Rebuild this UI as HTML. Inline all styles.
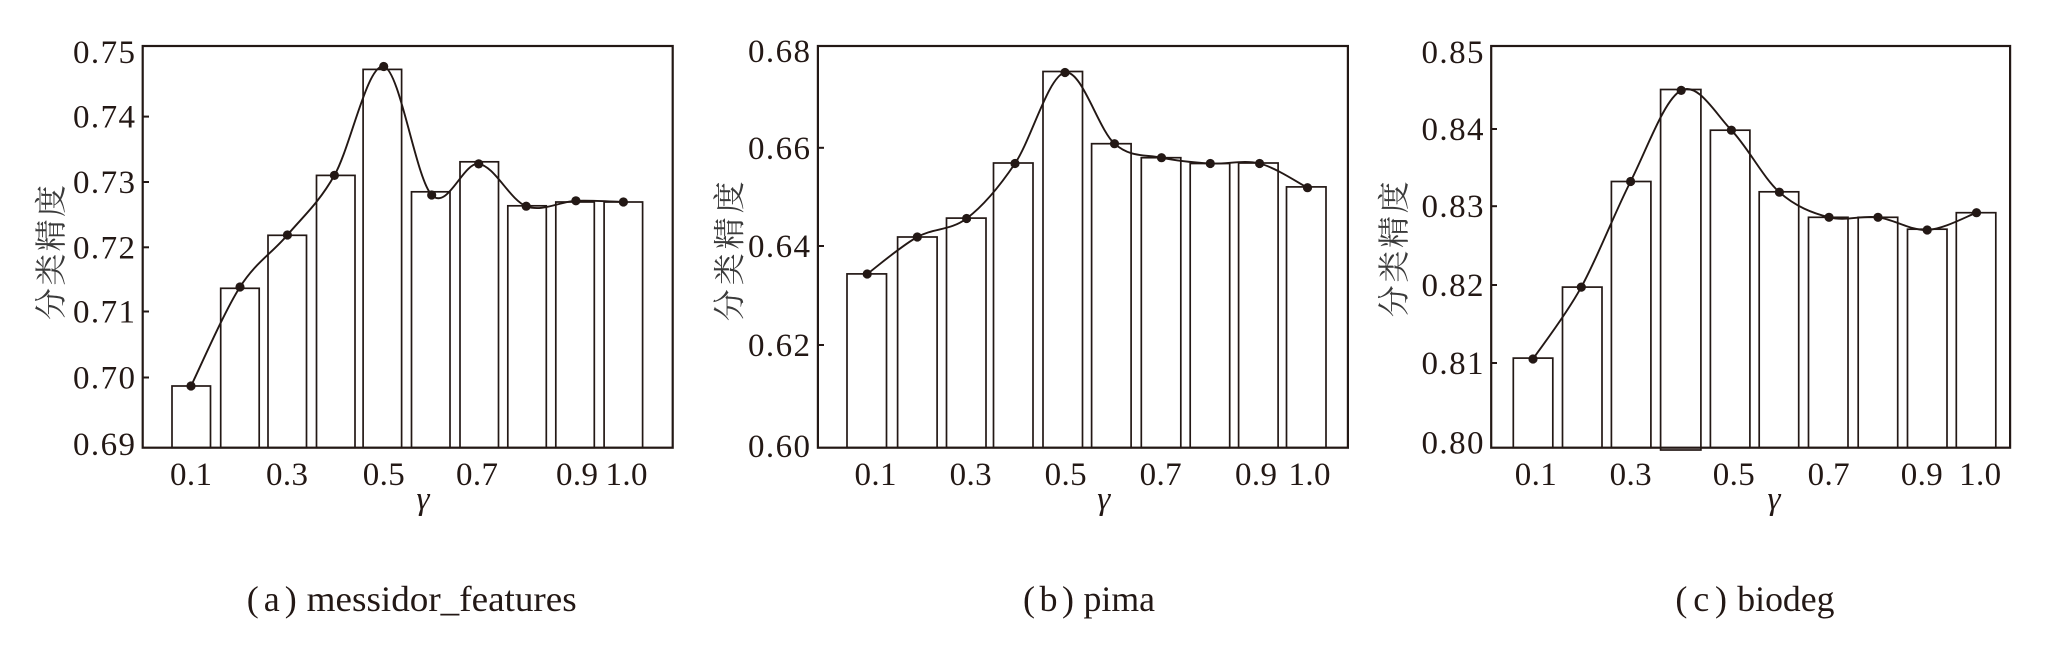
<!DOCTYPE html>
<html>
<head>
<meta charset="utf-8">
<style>
  html,body{margin:0;padding:0;background:#fff;}
  svg{display:block;}
  .num{font-family:"Liberation Serif",serif;font-size:33px;fill:#231815;}
  .cap{font-family:"Liberation Serif",serif;font-size:36px;fill:#231815;}
  .gam{font-family:"Liberation Serif",serif;font-size:33px;font-style:italic;fill:#231815;}
  .cjk{font-family:"Liberation Serif","Noto Serif CJK SC","Noto Sans CJK SC",serif;font-size:32px;fill:#3a3a3a;}
  .bar{fill:#fff;stroke:#231815;stroke-width:1.7;}
  .frame{fill:none;stroke:#231815;stroke-width:2.2;}
  .tick{stroke:#231815;stroke-width:2;}
  .curve{fill:none;stroke:#231815;stroke-width:1.9;}
  .dot{fill:#231815;}
</style>
</head>
<body>
<svg width="2067" height="645" viewBox="0 0 2067 645" xmlns="http://www.w3.org/2000/svg">
<rect x="0" y="0" width="2067" height="645" fill="#fff"/>

<!-- ================= Panel A ================= -->
<g>
  <rect class="bar" x="172" y="386" width="38.5" height="61.7"/>
  <rect class="bar" x="220.7" y="288.3" width="38.5" height="159.4"/>
  <rect class="bar" x="268" y="235.3" width="38.5" height="212.4"/>
  <rect class="bar" x="316.5" y="175.4" width="38.5" height="272.3"/>
  <rect class="bar" x="363.1" y="69.4" width="38.5" height="378.3"/>
  <rect class="bar" x="411.5" y="191.8" width="38.5" height="255.9"/>
  <rect class="bar" x="460" y="161.8" width="38.5" height="285.9"/>
  <rect class="bar" x="507.8" y="205.8" width="38.5" height="241.9"/>
  <rect class="bar" x="555.8" y="202" width="38.5" height="245.7"/>
  <rect class="bar" x="604.1" y="202" width="38.5" height="245.7"/>

  <rect class="frame" x="142.7" y="46" width="530" height="401.7"/>
  <line class="tick" x1="143" y1="116.6" x2="149" y2="116.6"/>
  <line class="tick" x1="143" y1="182" x2="149" y2="182"/>
  <line class="tick" x1="143" y1="247.3" x2="149" y2="247.3"/>
  <line class="tick" x1="143" y1="311.5" x2="149" y2="311.5"/>
  <line class="tick" x1="143" y1="377.5" x2="149" y2="377.5"/>

  <path class="curve" d="M191,386 C199.17,369.5 223.93,312.17 240,287 C256.07,261.83 271.67,253.6 287.4,235 C303.13,216.4 318.35,203.48 334.4,175.4 C350.45,147.32 367.48,63.23 383.7,66.5 C399.92,69.77 415.87,178.77 431.7,195 C447.53,211.23 462.95,162.03 478.7,163.9 C494.45,165.77 510,200.05 526.2,206.2 C542.4,212.35 559.7,201.5 575.9,200.8 C592.1,200.1 615.48,201.8 623.4,202"/>
  <circle class="dot" cx="191" cy="386" r="4.6"/>
  <circle class="dot" cx="240" cy="287" r="4.6"/>
  <circle class="dot" cx="287.4" cy="235" r="4.6"/>
  <circle class="dot" cx="334.4" cy="175.4" r="4.6"/>
  <circle class="dot" cx="383.7" cy="66.5" r="4.6"/>
  <circle class="dot" cx="431.7" cy="195" r="4.6"/>
  <circle class="dot" cx="478.7" cy="163.9" r="4.6"/>
  <circle class="dot" cx="526.2" cy="206.2" r="4.6"/>
  <circle class="dot" cx="575.9" cy="200.8" r="4.6"/>
  <circle class="dot" cx="623.4" cy="202" r="4.6"/>

  <text class="num" x="135" y="63" text-anchor="end" textLength="62" lengthAdjust="spacing">0.75</text>
  <text class="num" x="135" y="127.6" text-anchor="end" textLength="62" lengthAdjust="spacing">0.74</text>
  <text class="num" x="135" y="193" text-anchor="end" textLength="62" lengthAdjust="spacing">0.73</text>
  <text class="num" x="135" y="258.3" text-anchor="end" textLength="62" lengthAdjust="spacing">0.72</text>
  <text class="num" x="135" y="322.5" text-anchor="end" textLength="62" lengthAdjust="spacing">0.71</text>
  <text class="num" x="135" y="388.5" text-anchor="end" textLength="62" lengthAdjust="spacing">0.70</text>
  <text class="num" x="135" y="455" text-anchor="end" textLength="62" lengthAdjust="spacing">0.69</text>

  <text class="num" x="191" y="485" text-anchor="middle" textLength="42" lengthAdjust="spacing">0.1</text>
  <text class="num" x="287" y="485" text-anchor="middle" textLength="42" lengthAdjust="spacing">0.3</text>
  <text class="num" x="383.7" y="485" text-anchor="middle" textLength="42" lengthAdjust="spacing">0.5</text>
  <text class="num" x="477" y="485" text-anchor="middle" textLength="42" lengthAdjust="spacing">0.7</text>
  <text class="num" x="577" y="485" text-anchor="middle" textLength="42" lengthAdjust="spacing">0.9</text>
  <text class="num" x="626.5" y="485" text-anchor="middle" textLength="42" lengthAdjust="spacing">1.0</text>

  <text class="gam" x="423" y="509" text-anchor="middle">γ</text>
  <text class="cjk" transform="translate(62,252.5) rotate(-90)" text-anchor="middle" textLength="135" lengthAdjust="spacing">分类精度</text>

  <text class="cap" x="246.7" y="611" textLength="50" lengthAdjust="spacing">(a)</text>
  <text class="cap" x="306.7" y="611" textLength="270" lengthAdjust="spacingAndGlyphs">messidor_features</text>
</g>

<!-- ================= Panel B ================= -->
<g>
  <rect class="bar" x="847" y="273.9" width="39.5" height="173.8"/>
  <rect class="bar" x="897.6" y="237" width="39.5" height="210.7"/>
  <rect class="bar" x="946.5" y="218.1" width="39.5" height="229.6"/>
  <rect class="bar" x="993.5" y="163" width="39.5" height="284.7"/>
  <rect class="bar" x="1043" y="71.5" width="39.5" height="376.2"/>
  <rect class="bar" x="1091.6" y="143.7" width="39.5" height="304"/>
  <rect class="bar" x="1141.3" y="157.7" width="39.5" height="290"/>
  <rect class="bar" x="1190.2" y="163.5" width="39.5" height="284.2"/>
  <rect class="bar" x="1238.6" y="163" width="39.5" height="284.7"/>
  <rect class="bar" x="1286.5" y="186.9" width="39.5" height="260.8"/>

  <rect class="frame" x="817.9" y="46" width="530" height="401.7"/>
  <line class="tick" x1="818" y1="147.8" x2="824" y2="147.8"/>
  <line class="tick" x1="818" y1="246" x2="824" y2="246"/>
  <line class="tick" x1="818" y1="345" x2="824" y2="345"/>

  <path class="curve" d="M867.2,274 C875.55,267.83 900.73,246.25 917.3,237 C933.87,227.75 950.32,230.75 966.6,218.5 C982.88,206.25 998.6,187.83 1015,163.5 C1031.4,139.17 1048.42,75.8 1065,72.5 C1081.58,69.2 1098.42,129.5 1114.5,143.7 C1130.58,157.9 1145.53,154.4 1161.5,157.7 C1177.47,161 1193.95,162.53 1210.3,163.5 C1226.65,164.47 1243.4,159.47 1259.6,163.5 C1275.8,167.53 1299.52,183.67 1307.5,187.7"/>
  <circle class="dot" cx="867.2" cy="274" r="4.6"/>
  <circle class="dot" cx="917.3" cy="237" r="4.6"/>
  <circle class="dot" cx="966.6" cy="218.5" r="4.6"/>
  <circle class="dot" cx="1015" cy="163.5" r="4.6"/>
  <circle class="dot" cx="1065" cy="72.5" r="4.6"/>
  <circle class="dot" cx="1114.5" cy="143.7" r="4.6"/>
  <circle class="dot" cx="1161.5" cy="157.7" r="4.6"/>
  <circle class="dot" cx="1210.3" cy="163.5" r="4.6"/>
  <circle class="dot" cx="1259.6" cy="163.5" r="4.6"/>
  <circle class="dot" cx="1307.5" cy="187.7" r="4.6"/>

  <text class="num" x="810" y="62" text-anchor="end" textLength="62" lengthAdjust="spacing">0.68</text>
  <text class="num" x="810" y="158.8" text-anchor="end" textLength="62" lengthAdjust="spacing">0.66</text>
  <text class="num" x="810" y="257" text-anchor="end" textLength="62" lengthAdjust="spacing">0.64</text>
  <text class="num" x="810" y="356" text-anchor="end" textLength="62" lengthAdjust="spacing">0.62</text>
  <text class="num" x="810" y="457" text-anchor="end" textLength="62" lengthAdjust="spacing">0.60</text>

  <text class="num" x="875.5" y="485" text-anchor="middle" textLength="42" lengthAdjust="spacing">0.1</text>
  <text class="num" x="970.6" y="485" text-anchor="middle" textLength="42" lengthAdjust="spacing">0.3</text>
  <text class="num" x="1065.6" y="485" text-anchor="middle" textLength="42" lengthAdjust="spacing">0.5</text>
  <text class="num" x="1160.6" y="485" text-anchor="middle" textLength="42" lengthAdjust="spacing">0.7</text>
  <text class="num" x="1256" y="485" text-anchor="middle" textLength="42" lengthAdjust="spacing">0.9</text>
  <text class="num" x="1309.5" y="485" text-anchor="middle" textLength="42" lengthAdjust="spacing">1.0</text>

  <text class="gam" x="1103.7" y="509" text-anchor="middle">γ</text>
  <text class="cjk" transform="translate(740.5,251.3) rotate(-90)" text-anchor="middle" textLength="140" lengthAdjust="spacing">分类精度</text>

  <text class="cap" x="1023" y="611" textLength="51" lengthAdjust="spacing">(b)</text>
  <text class="cap" x="1083.5" y="611" textLength="71.5" lengthAdjust="spacingAndGlyphs">pima</text>
</g>

<!-- ================= Panel C ================= -->
<g>
  <rect class="bar" x="1513.3" y="358.1" width="39.5" height="89.6"/>
  <rect class="bar" x="1562.5" y="287.1" width="39.5" height="160.6"/>
  <rect class="bar" x="1611.4" y="181.5" width="39.5" height="266.2"/>
  <rect class="bar" x="1660.6" y="89.5" width="40.3" height="360.5"/>
  <rect class="bar" x="1710.4" y="130.2" width="39.5" height="317.5"/>
  <rect class="bar" x="1759.2" y="191.8" width="39.5" height="255.9"/>
  <rect class="bar" x="1808.5" y="217.3" width="39.5" height="230.4"/>
  <rect class="bar" x="1858.2" y="217.3" width="39.5" height="230.4"/>
  <rect class="bar" x="1907.5" y="229.2" width="39.5" height="218.5"/>
  <rect class="bar" x="1956.3" y="212.7" width="39.5" height="235"/>

  <rect class="frame" x="1491.2" y="46" width="518.9" height="401.7"/>
  <line class="tick" x1="1491" y1="129" x2="1497" y2="129"/>
  <line class="tick" x1="1491" y1="206.2" x2="1497" y2="206.2"/>
  <line class="tick" x1="1491" y1="285" x2="1497" y2="285"/>
  <line class="tick" x1="1491" y1="363" x2="1497" y2="363"/>

  <path class="curve" d="M1533,359 C1541.05,347.02 1565.03,316.68 1581.3,287.1 C1597.57,257.52 1613.95,214.28 1630.6,181.5 C1647.25,148.72 1664.4,98.95 1681.2,90.4 C1698,81.85 1715.03,113.23 1731.4,130.2 C1747.77,147.17 1763.13,177.68 1779.4,192.2 C1795.67,206.72 1812.57,213.12 1829,217.3 C1845.43,221.48 1861.63,215.18 1878,217.3 C1894.37,219.42 1910.78,230.77 1927.2,230 C1943.62,229.23 1968.28,215.58 1976.5,212.7"/>
  <circle class="dot" cx="1533" cy="359" r="4.6"/>
  <circle class="dot" cx="1581.3" cy="287.1" r="4.6"/>
  <circle class="dot" cx="1630.6" cy="181.5" r="4.6"/>
  <circle class="dot" cx="1681.2" cy="90.4" r="4.6"/>
  <circle class="dot" cx="1731.4" cy="130.2" r="4.6"/>
  <circle class="dot" cx="1779.4" cy="192.2" r="4.6"/>
  <circle class="dot" cx="1829" cy="217.3" r="4.6"/>
  <circle class="dot" cx="1878" cy="217.3" r="4.6"/>
  <circle class="dot" cx="1927.2" cy="230" r="4.6"/>
  <circle class="dot" cx="1976.5" cy="212.7" r="4.6"/>

  <text class="num" x="1483.5" y="63" text-anchor="end" textLength="62" lengthAdjust="spacing">0.85</text>
  <text class="num" x="1483.5" y="140" text-anchor="end" textLength="62" lengthAdjust="spacing">0.84</text>
  <text class="num" x="1483.5" y="217.2" text-anchor="end" textLength="62" lengthAdjust="spacing">0.83</text>
  <text class="num" x="1483.5" y="296" text-anchor="end" textLength="62" lengthAdjust="spacing">0.82</text>
  <text class="num" x="1483.5" y="374" text-anchor="end" textLength="62" lengthAdjust="spacing">0.81</text>
  <text class="num" x="1483.5" y="453.5" text-anchor="end" textLength="62" lengthAdjust="spacing">0.80</text>

  <text class="num" x="1535.7" y="485" text-anchor="middle" textLength="42" lengthAdjust="spacing">0.1</text>
  <text class="num" x="1630.6" y="485" text-anchor="middle" textLength="42" lengthAdjust="spacing">0.3</text>
  <text class="num" x="1733.7" y="485" text-anchor="middle" textLength="42" lengthAdjust="spacing">0.5</text>
  <text class="num" x="1828.6" y="485" text-anchor="middle" textLength="42" lengthAdjust="spacing">0.7</text>
  <text class="num" x="1921.8" y="485" text-anchor="middle" textLength="42" lengthAdjust="spacing">0.9</text>
  <text class="num" x="1980.1" y="485" text-anchor="middle" textLength="42" lengthAdjust="spacing">1.0</text>

  <text class="gam" x="1774" y="509" text-anchor="middle">γ</text>
  <text class="cjk" transform="translate(1405,249.3) rotate(-90)" text-anchor="middle" textLength="136" lengthAdjust="spacing">分类精度</text>

  <text class="cap" x="1675.4" y="611" textLength="51.6" lengthAdjust="spacing">(c)</text>
  <text class="cap" x="1737.3" y="611" textLength="97.2" lengthAdjust="spacingAndGlyphs">biodeg</text>
</g>
</svg>
</body>
</html>
